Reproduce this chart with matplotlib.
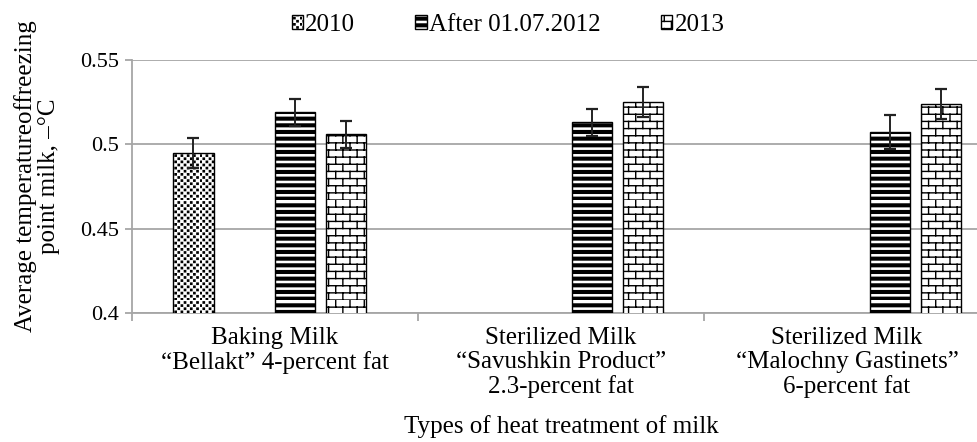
import numpy as np
import matplotlib
matplotlib.use("Agg")
import matplotlib.pyplot as plt
import matplotlib.hatch as mhatch
from matplotlib.path import Path

# data
categories = ["Baking Milk\n\u201cBellakt\u201d 4-percent fat",
              "Sterilized Milk\n\u201cSavushkin Product\u201d\n2.3-percent fat",
              "Sterilized Milk\n\u201cMalochny Gastinets\u201d\n6-percent fat"]
series = ["2010", "After 01.07.2012", "2013"]
vals_2010 = [0.495, np.nan, np.nan]
err_2010 = [0.009, 0, 0]
vals_after = [0.519, 0.513, 0.5075]
err_after = [0.008, 0.008, 0.010]
vals_2013 = [0.506, 0.525, 0.524]
err_2013 = [0.008, 0.009, 0.009]
yticks = [0.4, 0.45, 0.5, 0.55]


# custom hatch patterns: 'd' dots, 's' thick stripes, 'b' bricks
class DotHatch(mhatch.HatchPatternBase):
    def __init__(self, hatch, density):
        self.rows, self.cols = 32, 16
        self.num_vertices = 5 * self.rows * self.cols if 'd' in hatch else 0

    def set_vertices_and_codes(self, vertices, codes):
        s = 0.013
        pts = []
        for r in range(self.rows):
            y = r / self.rows
            for c in range(self.cols):
                x = (c + 0.5 * (r % 2)) / self.cols
                pts += [(x, y), (x + s, y), (x + s, y + s), (x, y + s), (x, y)]
        vertices[:] = pts
        codes[:] = np.tile([Path.MOVETO, Path.LINETO, Path.LINETO,
                            Path.LINETO, Path.CLOSEPOLY], self.rows * self.cols)


class StripeHatch(mhatch.HatchPatternBase):
    def __init__(self, hatch, density):
        self.n = 15
        self.num_vertices = 5 * self.n if 's' in hatch else 0

    def set_vertices_and_codes(self, vertices, codes):
        h = 0.027
        pts = []
        for i in range(self.n):
            y = i / self.n
            pts += [(-0.1, y), (1.1, y), (1.1, y + h), (-0.1, y + h), (-0.1, y)]
        vertices[:] = pts
        codes[:] = np.tile([Path.MOVETO, Path.LINETO, Path.LINETO,
                            Path.LINETO, Path.CLOSEPOLY], self.n)


class BrickHatch(mhatch.HatchPatternBase):
    def __init__(self, hatch, density):
        self.rows, self.cols = 14, 7
        self.num_vertices = (2 * self.rows + 2 * self.rows * self.cols) if 'b' in hatch else 0

    def set_vertices_and_codes(self, vertices, codes):
        pts = []
        for r in range(self.rows):
            y0 = r / self.rows
            y1 = (r + 1) / self.rows
            pts += [(-0.1, y0), (1.1, y0)]
            for c in range(self.cols):
                x = ((c + 0.5 * (r % 2)) / self.cols) % 1.0
                pts += [(x, y0), (x, y1)]
        vertices[:] = pts
        codes[0::2] = Path.MOVETO
        codes[1::2] = Path.LINETO


mhatch._hatch_types.extend([DotHatch, StripeHatch, BrickHatch])

import warnings
warnings.filterwarnings("ignore")

plt.rcParams['font.family'] = ['Liberation Serif', 'DejaVu Serif']
plt.rcParams['hatch.linewidth'] = 1.0

fig = plt.figure(figsize=(9.77, 4.42), dpi=100)
ax = fig.add_axes([132 / 977, 1 - 313 / 442, 858 / 977, 253 / 442])

x = np.arange(len(categories)) * 1.04
width = 0.14
offsets = [-0.285, 0.07, 0.247]
hatches = ['d', 's', 'b']
all_vals = [vals_2010, vals_after, vals_2013]
all_errs = [err_2010, err_after, err_2013]

handles = []
for lab, v, e, off, h in zip(series, all_vals, all_errs, offsets, hatches):
    bars = ax.bar(x + off, v, width, color='white', edgecolor='black',
                  linewidth=1.0, hatch=h, label=lab, zorder=3)
    handles.append(bars)
    ax.errorbar(x + off, v, yerr=e, fmt='none', ecolor='#222222',
                elinewidth=1.4, capsize=4.3, capthick=1.6, zorder=4)

ax.set_ylim(0.4, 0.55)
ax.set_xlim(-0.5, 2.5)
ax.set_yticks(yticks)
ax.set_yticklabels(["0.4", "0.45", "0.5", "0.55"])
ax.yaxis.grid(True, color='#a6a6a6', linewidth=1.3, zorder=0)
ax.set_axisbelow(True)

ax.set_xticks(np.arange(len(categories)))
ax.set_xticklabels(categories, fontsize=18, linespacing=1.13)
ax.set_xticks(np.arange(-0.5, 3.0, 1.0), minor=True)
ax.tick_params(axis='x', which='major', length=0, pad=10)
ax.tick_params(axis='x', which='minor', length=6, color='#a6a6a6', width=1.3)
ax.tick_params(axis='y', length=5, color='#a6a6a6', width=1.3, labelsize=16, pad=4)

for s in ['top', 'right']:
    ax.spines[s].set_visible(False)
for s in ['left', 'bottom']:
    ax.spines[s].set_color('#a6a6a6')
    ax.spines[s].set_linewidth(1.3)

ax.set_xlabel("Types of heat treatment of milk", fontsize=18, labelpad=12)
ax.set_ylabel("Average temperatureoffreezing\npoint milk, \u2013\u00b0C",
              fontsize=18, linespacing=1.05)
ax.yaxis.set_label_coords(-0.084, 0.54)

fig.legend(handles, series, loc='center', bbox_to_anchor=(0.52, 0.944),
           ncol=3, frameon=False, fontsize=18, handlelength=0.45,
           handleheight=0.45, handletextpad=0.1, columnspacing=2.4)

fig.savefig("out.png", dpi=100)
